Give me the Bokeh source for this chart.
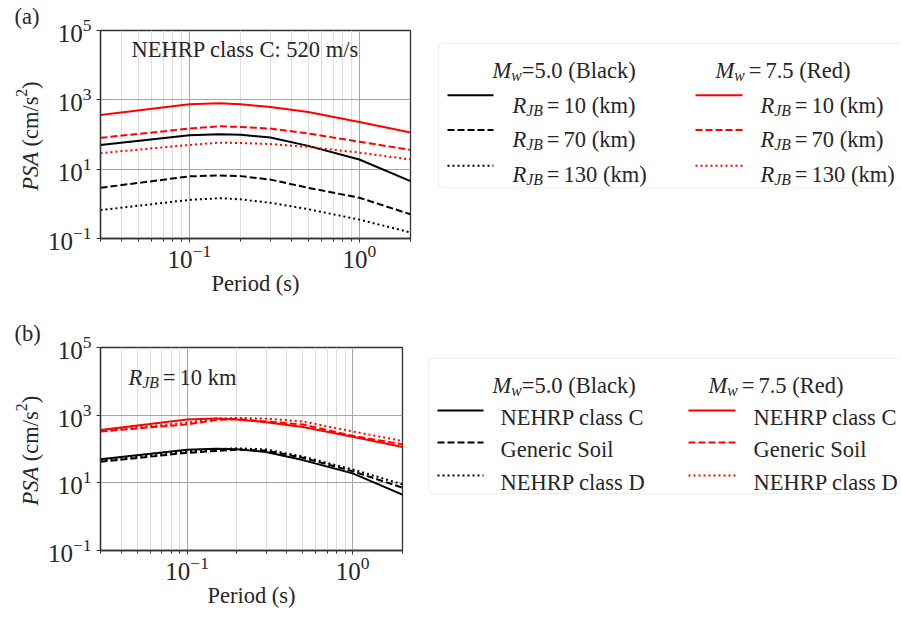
import math
from bokeh.plotting import figure
from bokeh.models import Label, FixedTicker, Range1d, BoxAnnotation, Title
from bokeh.layouts import row, column
from bokeh.embed import file_html
from bokeh.resources import INLINE

# ---------------- data ----------------
periods = [0.03, 0.1, 0.15, 0.2, 0.3, 0.5, 1.0, 2.0]

# panel (a): NEHRP class C, three distances
a_m50_r10 = [50, 95, 102, 98, 82, 47, 19, 4.5]
a_m50_r70 = [2.9, 6.2, 6.6, 6.3, 5.0, 2.9, 1.5, 0.5]
a_m50_r130 = [0.66, 1.3, 1.45, 1.35, 1.07, 0.7, 0.35, 0.15]
a_m75_r10 = [365, 740, 800, 740, 620, 445, 230, 115]
a_m75_r70 = [80, 148, 172, 165, 148, 107, 62, 36]
a_m75_r130 = [29, 50, 58, 57, 53, 44, 30, 19]

# panel (b): RJB = 10 km, three site conditions
b_m50_c = [50, 95, 102, 98, 82, 47, 19, 4.5]
b_m50_soil = [42, 77, 88, 95, 90, 55, 22, 7.2]
b_m50_d = [46, 85, 98, 105, 97, 60, 25, 9.0]
b_m75_c = [365, 740, 800, 740, 620, 445, 230, 115]
b_m75_soil = [330, 535, 720, 770, 650, 530, 245, 137]
b_m75_d = [350, 600, 800, 830, 790, 650, 330, 172]

x_major = [0.1, 1.0]
x_minor = [0.03, 0.04, 0.05, 0.06, 0.07, 0.08, 0.09,
           0.2, 0.3, 0.4, 0.5, 0.6, 0.7, 0.8, 0.9, 2.0]
y_major = [0.1, 10, 1000, 100000]

mag_values = ["5.0", "7.5"]
mag_colors = ["Black", "Red"]
dist_labels = ["10", "70", "130"]
site_labels = ["NEHRP class C", "Generic Soil", "NEHRP class D"]
panel_tags = ["(a)", "(b)"]
site_text = "NEHRP class C: 520 m/s"
x_label = "Period (s)"

# ---------------- styling ----------------
FONT = "Liberation Serif"
TXT = "#262626"
FS = 22.5
TICK_FS = 25
RED = "#ff0000"
BLK = "#000000"
DASHES = ["solid", "7 3", "2 3"]
YLAB_W = 44

W_REG = {' ': 250, '(': 333, ')': 333, '=': 564, '.': 250, '/': 278, ':': 278,
         'A': 722, 'B': 667, 'C': 667, 'D': 722, 'E': 611, 'G': 722, 'H': 722,
         'N': 722, 'P': 556, 'R': 667, 'S': 556, 'M': 889, 'J': 389,
         'a': 444, 'c': 444, 'd': 500, 'e': 444, 'i': 278, 'k': 500, 'l': 278,
         'm': 778, 'n': 500, 'o': 500, 'r': 333, 's': 389, 'w': 722, 'g': 500}
W_IT = {'M': 833, 'R': 611, 'J': 444, 'B': 611, 'w': 667, 'P': 611, 'S': 500, 'A': 611}
SPACE = 0.25 * FS


def text_width(s, italic, size):
    tot = 0
    for ch in s:
        if italic and ch in W_IT:
            tot += W_IT[ch]
        else:
            tot += W_REG.get(ch, 500)
    return tot * size / 1000.0


def mtext(fig, x, y, pieces, units="screen", down=False, rotated=False, size=FS):
    """pieces: (text, italic, scale, shift_em[, gap_px]); shift>0 = superscript."""
    adv = 0.0
    for p in pieces:
        txt, it, sc, sh = p[:4]
        gap = p[4] if len(p) > 4 else 0
        fs = size * sc
        if txt:
            if rotated:
                lx = x - sh * size
                ly = y - adv if down else y + adv
                ang = math.pi / 2
            else:
                lx = x + adv
                ly = y + sh * size * (-1 if down else 1)
                ang = 0
            fig.add_layout(Label(x=lx, y=ly, x_units=units, y_units=units, text=txt,
                                 angle=ang, text_font=FONT, text_font_size=f"{fs:.1f}px",
                                 text_font_style="italic" if it else "normal",
                                 text_color=TXT, text_align="left",
                                 text_baseline="alphabetic"))
        adv += text_width(txt, it, fs) + gap


def blank_fig(width, height, x0, x1, ftop, fbot, bt, bb):
    f = figure(width=width, height=height, x_range=Range1d(x0, x1), y_range=Range1d(fbot, ftop),
               output_backend="svg", toolbar_location=None,
               x_axis_location=None, y_axis_location=None,
               min_border_left=0, min_border_right=0,
               min_border_top=bt, min_border_bottom=bb)
    f.grid.visible = False
    f.outline_line_color = None
    f.background_fill_color = "white"
    f.border_fill_color = "white"
    return f


def make_plot(width, height, bl, br, bt, bb):
    p = figure(width=width, height=height, x_axis_type="log", y_axis_type="log",
               x_range=Range1d(periods[0], periods[-1]), y_range=Range1d(y_major[0], y_major[-1]),
               output_backend="svg", toolbar_location=None,
               min_border_left=bl, min_border_right=br, min_border_top=bt, min_border_bottom=bb)
    p.background_fill_color = "white"
    p.border_fill_color = "white"
    p.outline_line_color = "#333333"
    p.outline_line_width = 1.3
    xt = FixedTicker(ticks=x_major, minor_ticks=x_minor)
    yt = FixedTicker(ticks=y_major, minor_ticks=[])
    p.xaxis.ticker = xt
    p.yaxis.ticker = yt
    p.xgrid.ticker = xt
    p.ygrid.ticker = yt
    p.xgrid.grid_line_color = "#a6a6a6"
    p.ygrid.grid_line_color = "#a6a6a6"
    p.xgrid.minor_grid_line_color = "#dedede"
    for ax in (p.xaxis, p.yaxis):
        ax.axis_line_color = "#333333"
        ax.axis_line_width = 1.3
        ax.major_tick_line_color = "#333333"
        ax.minor_tick_line_color = "#333333"
        ax.major_tick_out = 4
        ax.major_tick_in = 0
        ax.minor_tick_out = 3
        ax.minor_tick_in = 0
        ax.major_label_text_font = FONT
        ax.major_label_text_font_size = f"{TICK_FS}px"
        ax.major_label_text_color = TXT
    p.xaxis.major_label_standoff = 2
    p.yaxis.major_label_standoff = 5
    p.xaxis.axis_label = x_label
    p.xaxis.axis_label_text_font = FONT
    p.xaxis.axis_label_text_font_size = f"{FS}px"
    p.xaxis.axis_label_text_font_style = "normal"
    p.xaxis.axis_label_text_color = TXT
    p.xaxis.axis_label_standoff = 0
    return p


def ylab_fig(height, ftop, fbot, bt, bb, tag, start_y, title_standoff):
    f = blank_fig(YLAB_W, height, 0, YLAB_W, ftop, fbot, bt, bb)
    f.add_layout(Title(text=tag, align="left", offset=14, standoff=title_standoff,
                       text_font=FONT, text_font_size=f"{FS}px", text_font_style="normal",
                       text_color=TXT), "above")
    mtext(f, 30, start_y, [("PSA", True, 1, 0, SPACE), ("(cm/s", False, 1, 0),
                           ("2", False, 0.7, 0.42), (")", False, 1, 0)],
          units="data", down=True, rotated=True)
    return f


def legend_headers(f, x1, x2, base):
    mtext(f, x1, base, [("M", True, 1, 0), ("w", True, 0.7, -0.22),
                        ("=" + mag_values[0], False, 1, 0, SPACE),
                        ("(" + mag_colors[0] + ")", False, 1, 0)],
          units="data", down=True)
    mtext(f, x2, base, [("M", True, 1, 0), ("w", True, 0.7, -0.22, 4),
                        ("=", False, 1, 0, 4),
                        (mag_values[1], False, 1, 0, SPACE),
                        ("(" + mag_colors[1] + ")", False, 1, 0)],
          units="data", down=True)


# ---------------- panel (a) ----------------
HA, TA, BA = 310, 29, 72          # row height, frame top / bottom border
FTA, FBA = TA, HA - BA            # frame top / bottom (page y)
ya = ylab_fig(HA, FTA, FBA, TA, BA, panel_tags[0], 190, 3)
pa = make_plot(420 - YLAB_W, HA, 97 - YLAB_W, 10, TA, BA)
a_series = [(a_m50_r10, BLK, 0), (a_m50_r70, BLK, 1), (a_m50_r130, BLK, 2),
            (a_m75_r10, RED, 0), (a_m75_r70, RED, 1), (a_m75_r130, RED, 2)]
for vals, col, d in a_series:
    pa.line(periods, vals, line_color=col, line_width=2, line_dash=DASHES[d])
pa.add_layout(Label(x=31, y=189, x_units="screen", y_units="screen", text=site_text,
                    text_font=FONT, text_font_size=f"{FS}px", text_color=TXT,
                    text_align="left", text_baseline="alphabetic"))

la = blank_fig(480, HA, 420, 900, FTA, FBA, TA, BA)
la.add_layout(BoxAnnotation(left=438, right=930, top=42, bottom=187, level="underlay",
                            fill_color="white", fill_alpha=1, line_color="#cccccc",
                            line_width=1.2, border_radius=5))
legend_headers(la, 492, 715, 69)
for i, (yy, yb) in enumerate(zip([94, 129, 165], [104, 139, 174])):
    la.line([447, 493], [yy, yy], line_color=BLK, line_width=2, line_dash=DASHES[i])
    la.line([695, 742], [yy, yy], line_color=RED, line_width=2, line_dash=DASHES[i])
    for xx in (512, 760):
        mtext(la, xx, yb, [("R", True, 1, 0), ("JB", True, 0.7, -0.22, 4),
                           ("=", False, 1, 0, 4),
                           (dist_labels[i], False, 1, 0, SPACE),
                           ("(km)", False, 1, 0)],
              units="data", down=True)

# ---------------- panel (b) ----------------
HB, TB, BB = 306, 37, 66
FTB, FBB = 310 + TB, 310 + HB - BB
yb_fig = ylab_fig(HB, FTB, FBB, TB, BB, panel_tags[1], 505, 4)
pb = make_plot(420 - YLAB_W, HB, 97 - YLAB_W, 18, TB, BB)
b_series = [(b_m50_c, BLK, 0), (b_m50_soil, BLK, 1), (b_m50_d, BLK, 2),
            (b_m75_c, RED, 0), (b_m75_soil, RED, 1), (b_m75_d, RED, 2)]
for vals, col, d in b_series:
    pb.line(periods, vals, line_color=col, line_width=2, line_dash=DASHES[d])
mtext(pb, 28, 173, [("R", True, 1, 0), ("JB", True, 0.7, -0.22, 4),
                    ("=", False, 1, 0, 4), ("10 km", False, 1, 0)])

lb = blank_fig(480, HB, 420, 900, FTB, FBB, TB, BB)
lb.add_layout(BoxAnnotation(left=428, right=930, top=358, bottom=493, level="underlay",
                            fill_color="white", fill_alpha=1, line_color="#cccccc",
                            line_width=1.2, border_radius=5))
legend_headers(lb, 492, 708, 385)
for i, (yy, ybl) in enumerate(zip([410, 442, 475], [417, 449, 482])):
    lb.line([437, 483], [yy, yy], line_color=BLK, line_width=2, line_dash=DASHES[i])
    lb.line([688, 735], [yy, yy], line_color=RED, line_width=2, line_dash=DASHES[i])
    for xx in (500, 753):
        mtext(lb, xx, ybl, [(site_labels[i], False, 1, 0)], units="data", down=True)

layout = column(row(ya, pa, la), row(yb_fig, pb, lb))
open("out.html", "w").write(file_html(layout, INLINE))
